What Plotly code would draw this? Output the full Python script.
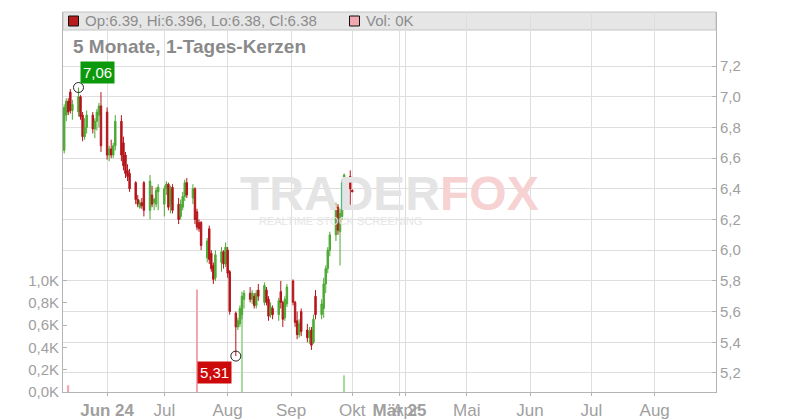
import plotly.graph_objects as go

# ---------------- data ----------------
dates = [
    "2024-05-13", "2024-05-14", "2024-05-15", "2024-05-16", "2024-05-17",
    "2024-05-20", "2024-05-21", "2024-05-22", "2024-05-23", "2024-05-24",
    "2024-05-27", "2024-05-28", "2024-05-29", "2024-05-30", "2024-05-31",
    "2024-06-03", "2024-06-04", "2024-06-05", "2024-06-06", "2024-06-07",
    "2024-06-10", "2024-06-11", "2024-06-12", "2024-06-13", "2024-06-14",
    "2024-06-17", "2024-06-18", "2024-06-19", "2024-06-20", "2024-06-21",
    "2024-06-24", "2024-06-25", "2024-06-26", "2024-06-27", "2024-06-28",
    "2024-07-01", "2024-07-02", "2024-07-03", "2024-07-04", "2024-07-05",
    "2024-07-08", "2024-07-09", "2024-07-10", "2024-07-11", "2024-07-12",
    "2024-07-15", "2024-07-16", "2024-07-17", "2024-07-18", "2024-07-19",
    "2024-07-22", "2024-07-23", "2024-07-24", "2024-07-25", "2024-07-26",
    "2024-07-29", "2024-07-30", "2024-07-31", "2024-08-01", "2024-08-02",
    "2024-08-05", "2024-08-06", "2024-08-07", "2024-08-08", "2024-08-09",
    "2024-08-12", "2024-08-13", "2024-08-14", "2024-08-15", "2024-08-16",
    "2024-08-19", "2024-08-20", "2024-08-21", "2024-08-22", "2024-08-23",
    "2024-08-26", "2024-08-27", "2024-08-28", "2024-08-29", "2024-08-30",
    "2024-09-02", "2024-09-03", "2024-09-04", "2024-09-05", "2024-09-06",
    "2024-09-09", "2024-09-10", "2024-09-11", "2024-09-12", "2024-09-13",
    "2024-09-16", "2024-09-17", "2024-09-18", "2024-09-19", "2024-09-20",
    "2024-09-23", "2024-09-24", "2024-09-25", "2024-09-26", "2024-09-27",
    "2024-09-30", "2024-10-01",
]
opens = [
    6.65, 6.88, 6.97, 7.03, 6.91,
    6.90, 7.00, 6.88, 6.74, 6.80,
    6.88, 6.79, 6.84, 6.88, 6.94,
    6.90, 6.62, 6.66, 6.62, 6.68,
    6.84, 6.70, 6.62, 6.52, 6.50,
    6.44, 6.33, 6.28, 6.31, 6.44,
    6.26, 6.36, 6.31, 6.30, 6.38,
    6.30, 6.40, 6.43, 6.30, 6.41,
    6.30, 6.22, 6.28, 6.35, 6.44,
    6.34, 6.40, 6.25, 6.18, 6.18,
    5.95, 6.14, 5.98, 5.90, 5.82,
    5.92, 5.99, 5.91, 6.00, 5.86,
    5.59, 5.50, 5.52, 5.58, 5.68,
    5.72, 5.68, 5.70, 5.64, 5.74,
    5.66, 5.74, 5.68, 5.58, 5.62,
    5.58, 5.73, 5.66, 5.56, 5.65,
    5.80, 5.66, 5.54, 5.45, 5.60,
    5.48, 5.43, 5.48, 5.40, 5.70,
    5.58, 5.62, 5.78, 5.88, 6.00,
    6.10, 6.28, 6.12, 6.22, 6.30,
    6.48, 6.39,
]
highs = [
    6.95, 6.99, 6.99, 7.05, 6.98,
    7.06, 7.01, 6.90, 6.86, 6.91,
    6.90, 6.86, 6.92, 6.96, 7.03,
    6.93, 6.68, 6.72, 6.70, 6.88,
    6.88, 6.74, 6.64, 6.56, 6.53,
    6.45, 6.36, 6.33, 6.34, 6.45,
    6.49, 6.42, 6.34, 6.41, 6.43,
    6.42, 6.45, 6.44, 6.42, 6.43,
    6.34, 6.33, 6.38, 6.46, 6.47,
    6.43, 6.41, 6.27, 6.20, 6.19,
    6.08, 6.16, 6.00, 5.92, 6.00,
    6.02, 6.00, 6.05, 6.02, 5.87,
    5.60, 5.56, 5.64, 5.73, 5.74,
    5.76, 5.74, 5.72, 5.74, 5.78,
    5.79, 5.76, 5.70, 5.66, 5.64,
    5.69, 5.80, 5.67, 5.70, 5.78,
    5.81, 5.67, 5.60, 5.55, 5.62,
    5.52, 5.50, 5.50, 5.58, 5.74,
    5.68, 5.82, 5.90, 6.02, 6.12,
    6.31, 6.30, 6.27, 6.46, 6.50,
    6.52, 6.396,
]
lows = [
    6.63, 6.84, 6.88, 6.89, 6.85,
    6.87, 6.85, 6.71, 6.72, 6.76,
    6.76, 6.73, 6.78, 6.80, 6.64,
    6.59, 6.58, 6.60, 6.60, 6.65,
    6.58, 6.52, 6.47, 6.45, 6.38,
    6.30, 6.28, 6.27, 6.27, 6.22,
    6.20, 6.28, 6.26, 6.28, 6.26,
    6.22, 6.36, 6.26, 6.24, 6.24,
    6.17, 6.20, 6.26, 6.32, 6.34,
    6.30, 6.17, 6.13, 6.12, 6.00,
    5.92, 5.91, 5.86, 5.78, 5.80,
    5.86, 5.88, 5.89, 5.82, 5.58,
    5.31, 5.48, 5.50, 5.55, 5.62,
    5.66, 5.65, 5.62, 5.62, 5.67,
    5.64, 5.64, 5.54, 5.56, 5.55,
    5.54, 5.62, 5.50, 5.54, 5.63,
    5.64, 5.50, 5.42, 5.43, 5.44,
    5.40, 5.39, 5.35, 5.39, 5.55,
    5.55, 5.56, 5.72, 5.85, 5.96,
    6.06, 6.10, 5.90, 6.20, 6.28,
    6.28, 6.38,
]
closes = [
    6.93, 6.97, 6.90, 6.91, 6.95,
    7.00, 6.87, 6.74, 6.80, 6.88,
    6.79, 6.84, 6.90, 6.94, 6.68,
    6.62, 6.66, 6.62, 6.68, 6.84,
    6.62, 6.55, 6.50, 6.48, 6.40,
    6.33, 6.30, 6.31, 6.29, 6.26,
    6.45, 6.30, 6.33, 6.39, 6.41,
    6.40, 6.43, 6.28, 6.40, 6.26,
    6.20, 6.30, 6.35, 6.44, 6.36,
    6.40, 6.20, 6.15, 6.14, 6.03,
    6.06, 5.94, 5.88, 5.81, 5.97,
    5.99, 5.91, 6.02, 5.85, 5.60,
    5.50, 5.54, 5.62, 5.70, 5.72,
    5.68, 5.72, 5.64, 5.72, 5.70,
    5.77, 5.66, 5.57, 5.63, 5.58,
    5.67, 5.66, 5.55, 5.68, 5.76,
    5.66, 5.53, 5.45, 5.52, 5.47,
    5.43, 5.47, 5.38, 5.55, 5.58,
    5.65, 5.78, 5.88, 6.00, 6.10,
    6.28, 6.13, 6.24, 6.44, 6.49,
    6.40, 6.38,
]

vol_dates = ["2024-05-15", "2024-07-17", "2024-08-08", "2024-09-27"]
vol_values = [60, 920, 810, 150]

price_tick_vals = [5.2, 5.4, 5.6, 5.8, 6.0, 6.2, 6.4, 6.6, 6.8, 7.0, 7.2]
vol_tick_vals = [0, 200, 400, 600, 800, 1000]
vol_tick_labels = ["0,0K", "0,2K", "0,4K", "0,6K", "0,8K", "1,0K"]
x_tick_dates = ["2024-06-03", "2024-07-01", "2024-08-01", "2024-09-01", "2024-10-01",
                "2025-03-29 02:00", "2025-04-01", "2025-05-01", "2025-06-01",
                "2025-07-01", "2025-08-01"]
x_tick_labels = ["<b>Jun 24</b>", "Jul", "Aug", "Sep", "Okt", "<b>Mär 25</b>",
                 "Apr", "Mai", "Jun", "Jul", "Aug"]

high_date, high_value = "2024-05-20", 7.06
low_date, low_value = "2024-08-05", 5.31

title_text = "5 Monate, 1-Tages-Kerzen"
ohlc_text = "Op:6.39, Hi:6.396, Lo:6.38, Cl:6.38"
vol_text = "Vol: 0K"

# ---------------- style ----------------
GREEN = "#4caa32"
RED = "#b4141a"
VOL_GREEN = "#a8dc9c"
VOL_RED = "#f2a6ae"
GRID = "#dedede"
AXIS = "#b4b4b4"
TXT = "#9a9a9a"
FONT = "Liberation Sans, Arial, sans-serif"
NARROW = "Liberation Sans Narrow, Arial Narrow, Liberation Sans, sans-serif"

vol_colors = []
for d in vol_dates:
    i = dates.index(d)
    vol_colors.append(VOL_GREEN if closes[i] >= opens[i] else VOL_RED)

fig = go.Figure()

fig.add_trace(go.Bar(
    x=vol_dates, y=vol_values, yaxis="y", marker=dict(color=vol_colors, line=dict(width=0)),
    width=86400000 * 0.9, showlegend=False, hoverinfo="skip"))

fig.add_trace(go.Candlestick(
    x=dates, open=opens, high=highs, low=lows, close=closes, yaxis="y2",
    increasing=dict(line=dict(color=GREEN, width=1), fillcolor=GREEN),
    decreasing=dict(line=dict(color=RED, width=1), fillcolor=RED),
    whiskerwidth=0, showlegend=False, hoverinfo="skip"))

fig.add_trace(go.Scatter(
    x=[high_date, low_date], y=[high_value, low_value], yaxis="y2", mode="markers",
    marker=dict(symbol="circle-open", size=10, color="#222222", line=dict(width=1)),
    showlegend=False, hoverinfo="skip"))

# plot area in window pixels; the page body has an 8px default margin
OFF = 8
PL, PR, PT, PB = 63, 716, 12, 392
W, H = 800 - OFF, 420 - OFF
ML, MT = PL - OFF, PT - OFF
MR, MB = W - (PR - OFF), H - (PB - OFF)
pw, ph = PR - PL, PB - PT


def px(x):
    return (x - PL) / pw


def py(y):
    return (PB - y) / ph


shapes = [
    dict(type="rect", xref="paper", yref="paper", x0=0, x1=1, y0=py(30), y1=1,
         fillcolor="#e6e6e6", line=dict(color="#c4c4c4", width=1), layer="below"),
    dict(type="rect", xref="paper", yref="paper", x0=px(68.5), x1=px(78.5), y0=py(26), y1=py(16),
         fillcolor="#b81c1c", line=dict(color="#111111", width=1), layer="above"),
    dict(type="rect", xref="paper", yref="paper", x0=px(349.5), x1=px(359.5), y0=py(26), y1=py(16),
         fillcolor="#f0a8b0", line=dict(color="#111111", width=1), layer="above"),
]

annotations = [
    dict(xref="paper", yref="paper", x=px(83), y=py(21), text=ohlc_text, showarrow=False,
         xanchor="left", yanchor="middle", font=dict(family=FONT, size=15, color="#8c8c8c")),
    dict(xref="paper", yref="paper", x=px(364), y=py(21), text=vol_text, showarrow=False,
         xanchor="left", yanchor="middle", font=dict(family=FONT, size=15, color="#8c8c8c")),
    dict(xref="paper", yref="paper", x=px(71), y=py(47), text="<b>" + title_text + "</b>",
         showarrow=False, xanchor="left", yanchor="middle",
         font=dict(family=FONT, size=19, color="#8a8a8a")),
    dict(xref="paper", yref="paper", x=px(390), y=py(193),
         text="<b>TRADER<span style='color:#f6d2d2'>FOX</span></b>", showarrow=False,
         xanchor="center", yanchor="middle", font=dict(family=FONT, size=48, color="#e4e4e4")),
    dict(xref="paper", yref="paper", x=px(340), y=py(221), text="REALTIME STOCK SCREENING",
         showarrow=False, xanchor="center", yanchor="middle",
         font=dict(family=FONT, size=11, color="#e6e6e6")),
    dict(x=high_date, y=high_value, xref="x", yref="y2", text="7,06", showarrow=False,
         xanchor="left", yanchor="bottom", xshift=2, yshift=4, bgcolor="#0c9a0c",
         borderpad=2, font=dict(family=FONT, size=15, color="white")),
    dict(x=low_date, y=low_value, xref="x", yref="y2", text="5,31", showarrow=False,
         xanchor="right", yanchor="top", xshift=-4, yshift=-5, bgcolor="#cc0a0a",
         borderpad=2, font=dict(family=FONT, size=15, color="white")),
]

fig.update_layout(
    width=W, height=H, autosize=False,
    margin=dict(l=ML, r=MR, t=MT, b=MB, pad=0, autoexpand=False),
    paper_bgcolor="white", plot_bgcolor="white",
    separators=",.",
    boxgap=0.3, boxgroupgap=0.0,
    showlegend=False,
    font=dict(family=FONT, color=TXT),
    shapes=shapes, annotations=annotations,
    xaxis=dict(
        type="date", range=["2024-05-12 10:00", "2025-08-31"],
        rangebreaks=[dict(bounds=["2024-10-24", "2025-03-29"])],
        rangeslider=dict(visible=False), automargin=False, tickangle=0,
        tickmode="array", tickvals=x_tick_dates, ticktext=x_tick_labels,
        tickfont=dict(family=NARROW, size=17, color="#a0a0a0"),
        showgrid=True, gridcolor=GRID, gridwidth=1,
        showline=True, linecolor=AXIS, linewidth=1,
        ticks="outside", ticklen=3, tickcolor=AXIS, zeroline=False),
    yaxis=dict(
        range=[0, 3414], side="left", tickmode="array", automargin=False,
        tickvals=vol_tick_vals, ticktext=vol_tick_labels,
        tickfont=dict(family=FONT, size=15, color="#a0a0a0"),
        showgrid=False, showline=True, linecolor=AXIS, linewidth=1,
        ticks="inside", ticklen=4, tickcolor=AXIS, zeroline=False),
    yaxis2=dict(
        overlaying="y", side="right", range=[5.076, 7.552], automargin=False,
        tickmode="array", tickvals=price_tick_vals, tickformat=".1f",
        tickfont=dict(family=FONT, size=15, color="#a0a0a0"),
        showgrid=True, gridcolor=GRID, gridwidth=1,
        showline=True, linecolor=AXIS, linewidth=1,
        ticks="inside", ticklen=4, tickcolor=AXIS, zeroline=False),
)

fig.write_html("out.html")
